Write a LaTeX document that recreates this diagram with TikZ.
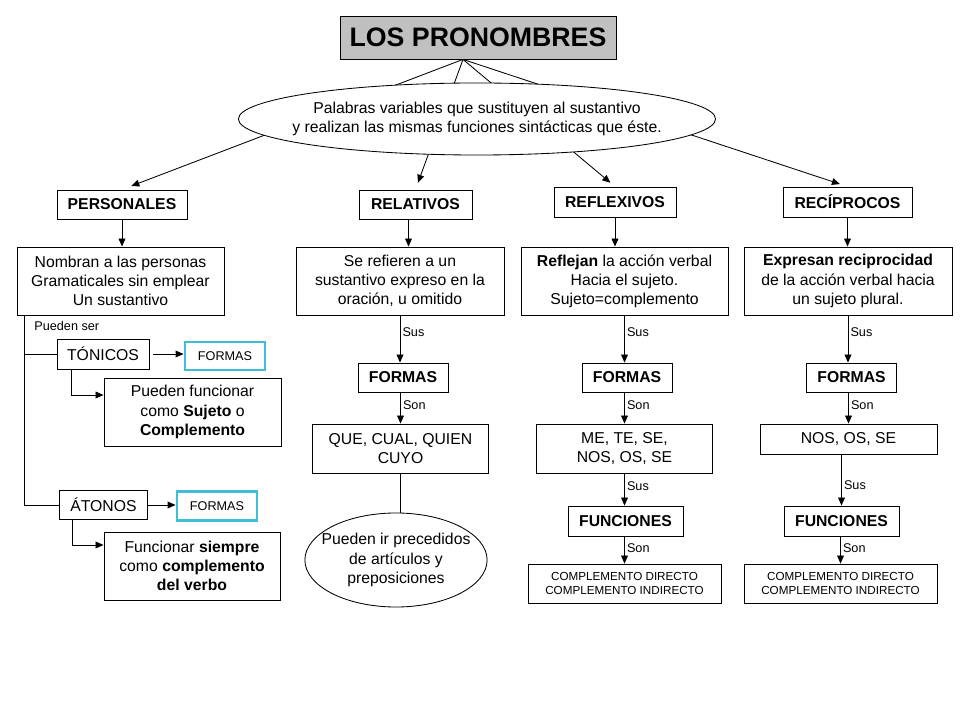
\documentclass[tikz,border=0pt]{standalone}
\usepackage{fontspec}
\setmainfont{Liberation Sans}
\usetikzlibrary{arrows.meta,shapes.geometric}
\definecolor{tealbox}{RGB}{64,190,215}
\definecolor{titlegray}{RGB}{192,192,192}
\begin{document}
\begin{tikzpicture}[x=0.025cm,y=-0.025cm,line width=0.6pt,
    box/.style={draw,inner sep=1pt,align=center,font=\fontsize{11.2}{13.6}\selectfont},
    cat/.style={box,font=\fontsize{11.2}{13.6}\selectfont\bfseries},
    small/.style={box,font=\fontsize{8.3}{10.5}\selectfont},
    formbox/.style={draw=tealbox,line width=2pt,inner sep=1pt,font=\fontsize{9}{11}\selectfont},
    lbl/.style={right,inner sep=1.5pt,font=\fontsize{9}{11}\selectfont},
    arr/.style={-{Triangle[length=2mm,width=1.7mm]}}]

    \useasboundingbox (0,0) rectangle (960,720);

    % titulo
    \node[draw,fill=titlegray,minimum width=6.9cm,minimum height=1.075cm,
          font=\fontsize{19}{22}\selectfont\bfseries] (titulo) at (478,37.5) {LOS PRONOMBRES};
    \coordinate (apex) at ([xshift=-0.375cm]titulo.south);

    % las cuatro clases
    \node[cat,minimum width=3.25cm,minimum height=0.725cm] (personales) at (122,204.5) {PERSONALES};
    \node[cat,minimum width=2.825cm,minimum height=0.725cm] (relativos) at (415.5,204.5) {RELATIVOS};
    \node[cat,minimum width=3.05cm,minimum height=0.75cm] (reflexivos) at (615,202) {REFLEXIVOS};
    \node[cat,minimum width=3.225cm,minimum height=0.75cm] (reciprocos) at (847.5,202) {RECÍPROCOS};

    \draw[arr,shorten >=0.25cm] (apex) -- (personales.north);
    \draw[arr,shorten >=0.18cm] (apex) -- (relativos.north);
    \draw[arr,shorten >=0.15cm] (apex) -- (reflexivos.north);
    \draw[arr,shorten >=0.2cm] (apex) -- (reciprocos.north);

    % definicion (tapa las lineas)
    \node[draw,ellipse,fill=white,minimum height=1.8cm,align=center,
          inner ysep=0pt,inner xsep=-0.4cm,font=\fontsize{11.2}{13.6}\selectfont] (definicion) at (477,119)
        {Palabras variables que sustituyen al sustantivo\\ y realizan las mismas funciones sintácticas que éste.};

    % PERSONALES
    \node[box,minimum width=5.175cm,minimum height=1.7cm] (nombran) at (120.5,281)
        {Nombran a las personas\\Gramaticales sin emplear\\Un sustantivo};
    \draw[arr] (personales.south) -- (personales.south |- nombran.north);
    \node[anchor=west,inner sep=0pt,font=\fontsize{9}{11}\selectfont] (puedenser) at (34,326) {Pueden ser};
    \node[box,minimum width=2.3cm,minimum height=0.75cm] (tonicos) at (103,354) {TÓNICOS};
    \node[formbox,minimum width=2cm,minimum height=0.7cm] (formasT) at (225,356) {FORMAS};
    \node[box,minimum width=4.425cm,minimum height=1.7cm] (funcT) at (192.5,412)
        {Pueden funcionar\\como \textbf{Sujeto} o\\\textbf{Complemento}};
    \node[box,minimum width=2.2cm,minimum height=0.725cm] (atonos) at (103.5,505) {ÁTONOS};
    \node[formbox,minimum width=2cm,minimum height=0.725cm] (formasA) at (217,506) {FORMAS};
    \node[box,minimum width=4.4cm,minimum height=1.7cm] (funcA) at (192,566)
        {Funcionar \textbf{siempre}\\como \textbf{complemento}\\\textbf{del verbo}};
    %
    \coordinate (tronco) at ([xshift=0.2cm]nombran.south west);
    \draw (tronco) |- (atonos.west);
    \draw (tronco |- tonicos.west) -- (tonicos.west);
    \draw[arr] ([xshift=0.1cm]tonicos.east) -- (formasT.west |- tonicos.east);
    \draw[arr] (atonos.east) -- (formasA.west |- atonos.east);
    \draw[arr] ([xshift=0.375cm]tonicos.south west) |- ([yshift=0.425cm]funcT.west);
    \draw[arr] ([xshift=0.325cm]atonos.south west) |- ([yshift=0.525cm]funcA.west);

    % RELATIVOS
    \node[box,minimum width=5.2cm,minimum height=1.7cm] (refieren) at (400,281)
        {Se refieren a un\\sustantivo expreso en la\\oración, u omitido};
    \node[cat,minimum width=2.25cm,minimum height=0.725cm] (formasRel) at (403,377.5) {FORMAS};
    \node[box,minimum width=4.4cm,minimum height=1.225cm] (que) at (400.5,448.5) {QUE, CUAL, QUIEN\\CUYO};
    \node[draw,ellipse,minimum height=2.35cm,inner ysep=0pt,inner xsep=-0.25cm,align=center,
          font=\fontsize{11.2}{13.6}\selectfont] (precedidos) at (396,560)
        {Pueden ir precedidos\\de artículos y\\preposiciones};
    \draw[arr] ([xshift=-0.175cm]relativos.south) -- ([xshift=-0.175cm]relativos.south |- refieren.north);
    \draw[arr] (refieren.south) -- (refieren.south |- formasRel.north) node[lbl,pos=0.35] {Sus};
    \draw[arr] (que.north |- formasRel.south) -- (que.north) node[lbl,pos=0.4] {Son};
    \draw (que.south) -- (que.south |- precedidos.north);

    % REFLEXIVOS
    \node[box,minimum width=5.175cm,minimum height=1.7cm] (reflejan) at (624.5,281)
        {\textbf{Reflejan} la acción verbal\\Hacia el sujeto.\\Sujeto=complemento};
    \node[cat,minimum width=2.25cm,minimum height=0.725cm] (formasRef) at (627,377.5) {FORMAS};
    \node[box,minimum width=4.4cm,minimum height=1.225cm] (meTe) at (624.5,448.5) {ME, TE, SE,\\NOS, OS, SE};
    \node[cat,minimum width=2.875cm,minimum height=0.75cm] (funcRef) at (625.5,521) {FUNCIONES};
    \node[small,minimum width=4.825cm,minimum height=0.975cm] (complRef) at (624.5,583.5)
        {COMPLEMENTO DIRECTO\\COMPLEMENTO INDIRECTO};
    \draw[arr] (reflexivos.south) -- (reflexivos.south |- reflejan.north);
    \draw[arr] (reflejan.south) -- (reflejan.south |- formasRef.north) node[lbl,pos=0.35] {Sus};
    \draw[arr] (meTe.north |- formasRef.south) -- (meTe.north) node[lbl,pos=0.4] {Son};
    \draw[arr] (meTe.south) -- (meTe.south |- funcRef.north) node[lbl,pos=0.4] {Sus};
    \draw[arr] (complRef.north |- funcRef.south) -- (complRef.north) node[lbl,pos=0.45] {Son};

    % RECIPROCOS
    \node[box,minimum width=5.2cm,minimum height=1.7cm] (expresan) at (848,281)
        {\textbf{Expresan reciprocidad}\\de la acción verbal hacia\\un sujeto plural.};
    \node[cat,minimum width=2.25cm,minimum height=0.725cm] (formasRec) at (851.5,377.5) {FORMAS};
    \node[box,minimum width=4.425cm,minimum height=0.75cm] (nosOs) at (848.5,439) {NOS, OS, SE};
    \node[cat,minimum width=2.875cm,minimum height=0.75cm] (funcRec) at (841.5,521) {FUNCIONES};
    \node[small,minimum width=4.825cm,minimum height=0.975cm] (complRec) at (840.5,583.5)
        {COMPLEMENTO DIRECTO\\COMPLEMENTO INDIRECTO};
    \draw[arr] (reciprocos.south) -- (reciprocos.south |- expresan.north);
    \draw[arr] (expresan.south) -- (expresan.south |- formasRec.north) node[lbl,pos=0.35] {Sus};
    \draw[arr] (nosOs.north |- formasRec.south) -- (nosOs.north) node[lbl,pos=0.4] {Son};
    \draw[arr] (funcRec.north |- nosOs.south) -- (funcRec.north) node[lbl,pos=0.6] {Sus};
    \draw[arr] (complRec.north |- funcRec.south) -- (complRec.north) node[lbl,pos=0.45] {Son};

\end{tikzpicture}
\end{document}
